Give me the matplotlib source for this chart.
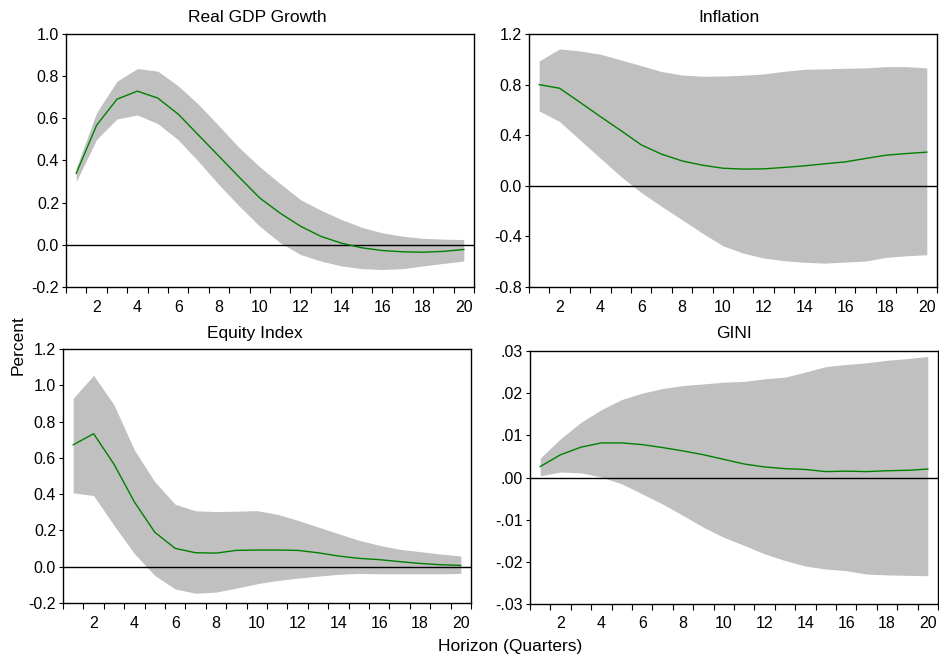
import numpy as np
import matplotlib
matplotlib.use("Agg")
import matplotlib.pyplot as plt

plt.rcParams['font.family'] = ['Liberation Sans', 'DejaVu Sans']

horizon = list(range(1, 21))

gdp_mid = [0.339, 0.567, 0.691, 0.729, 0.696, 0.62, 0.52, 0.42, 0.32, 0.222,
           0.15, 0.088, 0.04, 0.008, -0.014, -0.027, -0.033, -0.035, -0.031, -0.022]
gdp_up = [0.364, 0.627, 0.776, 0.836, 0.824, 0.754, 0.666, 0.564, 0.46, 0.37,
          0.29, 0.214, 0.164, 0.12, 0.083, 0.057, 0.041, 0.031, 0.027, 0.025]
gdp_lo = [0.30, 0.50, 0.597, 0.616, 0.575, 0.498, 0.395, 0.285, 0.183, 0.088,
          0.01, -0.046, -0.077, -0.10, -0.113, -0.117, -0.113, -0.10, -0.088, -0.077]

inf_mid = [0.80, 0.771, 0.66, 0.547, 0.437, 0.324, 0.25, 0.197, 0.163, 0.139,
           0.132, 0.134, 0.145, 0.158, 0.174, 0.189, 0.216, 0.242, 0.255, 0.266]
inf_up = [0.987, 1.082, 1.066, 1.04, 0.995, 0.95, 0.903, 0.876, 0.866, 0.868,
          0.874, 0.884, 0.905, 0.921, 0.924, 0.929, 0.932, 0.942, 0.942, 0.932]
inf_lo = [0.592, 0.508, 0.363, 0.218, 0.074, -0.053, -0.163, -0.268, -0.374, -0.474,
          -0.532, -0.571, -0.592, -0.605, -0.611, -0.603, -0.595, -0.566, -0.553, -0.545]

eq_mid = [0.672, 0.733, 0.565, 0.357, 0.19, 0.101, 0.077, 0.075, 0.09, 0.092,
          0.092, 0.09, 0.077, 0.059, 0.046, 0.039, 0.028, 0.018, 0.011, 0.007]
eq_up = [0.928, 1.055, 0.892, 0.643, 0.468, 0.344, 0.308, 0.304, 0.306, 0.309,
         0.289, 0.256, 0.219, 0.182, 0.146, 0.118, 0.096, 0.083, 0.07, 0.059]
eq_lo = [0.407, 0.392, 0.228, 0.072, -0.048, -0.123, -0.146, -0.14, -0.118, -0.094,
         -0.076, -0.063, -0.052, -0.042, -0.037, -0.039, -0.039, -0.039, -0.039, -0.037]

gini_mid = [0.0026, 0.0054, 0.0072, 0.0082, 0.0082, 0.0078, 0.0071, 0.0063, 0.0054, 0.0043,
            0.0032, 0.0025, 0.0021, 0.0019, 0.0014, 0.0015, 0.0014, 0.0016, 0.0017, 0.0020]
gini_up = [0.0046, 0.0092, 0.0131, 0.0161, 0.0185, 0.0200, 0.0211, 0.0218, 0.0222, 0.0226,
           0.0228, 0.0234, 0.0238, 0.0250, 0.0263, 0.0268, 0.0272, 0.0278, 0.0282, 0.0287]
gini_lo = [0.0004, 0.0013, 0.0011, 0.0001, -0.0015, -0.0039, -0.0063, -0.0090, -0.0118, -0.0142,
           -0.0161, -0.0181, -0.0197, -0.0210, -0.0217, -0.0221, -0.0229, -0.0231, -0.0232, -0.0233]

titles = ["Real GDP Growth", "Inflation", "Equity Index", "GINI"]

gdp_ticks = [-0.2, 0.0, 0.2, 0.4, 0.6, 0.8, 1.0]
gdp_labels = ["-0.2", "0.0", "0.2", "0.4", "0.6", "0.8", "1.0"]
inf_ticks = [-0.8, -0.4, 0.0, 0.4, 0.8, 1.2]
inf_labels = ["-0.8", "-0.4", "0.0", "0.4", "0.8", "1.2"]
eq_ticks = [-0.2, 0.0, 0.2, 0.4, 0.6, 0.8, 1.0, 1.2]
eq_labels = ["-0.2", "0.0", "0.2", "0.4", "0.6", "0.8", "1.0", "1.2"]
gini_ticks = [-0.03, -0.02, -0.01, 0.0, 0.01, 0.02, 0.03]
gini_labels = ["-.03", "-.02", "-.01", ".00", ".01", ".02", ".03"]
x_labels = [2, 4, 6, 8, 10, 12, 14, 16, 18, 20]

W, H = 939, 660
fig = plt.figure(figsize=(W / 100, H / 100), dpi=100)

def rect(l, r, t, b):
    return [l / W, 1 - b / H, (r - l) / W, (b - t) / H]

panels = [
    (rect(66, 474, 34, 287), gdp_mid, gdp_up, gdp_lo, gdp_ticks, gdp_labels, 257, 22),
    (rect(529, 937, 34, 287), inf_mid, inf_up, inf_lo, inf_ticks, inf_labels, 729, 22),
    (rect(63, 471, 349, 603), eq_mid, eq_up, eq_lo, eq_ticks, eq_labels, 255, 338),
    (rect(530, 938, 351, 604), gini_mid, gini_up, gini_lo, gini_ticks, gini_labels, 734, 338),
]

for (pos, mid, up, lo, yt, yl, tx, ty), title in zip(panels, titles):
    ax = fig.add_axes(pos)
    ax.fill_between(horizon, lo, up, color='#c0c0c0', linewidth=0, zorder=1)
    ax.axhline(0, color='black', linewidth=1.0, zorder=2)
    ax.plot(horizon, mid, color='#008000', linewidth=1.0, zorder=3)
    ax.set_xlim(0.5, 20.5)
    ax.set_ylim(yt[0], yt[-1])
    ax.set_yticks(yt)
    ax.set_yticklabels(yl)
    ax.set_xticks(x_labels)
    ax.set_xticklabels([str(v) for v in x_labels])
    ax.set_xticks(np.arange(0.5, 21.0, 1.0), minor=True)
    ax.tick_params(axis='x', which='major', length=0, pad=9, labelsize=11.5)
    ax.tick_params(axis='x', which='minor', length=4.5, width=0.8, direction='out')
    ax.tick_params(axis='y', which='major', length=3, width=0.8, direction='out', pad=2, labelsize=11.5)
    for s in ax.spines.values():
        s.set_linewidth(1.0)
    fig.text(tx / W, 1 - ty / H, title, ha='center', va='baseline', fontsize=12.5)

fig.text(18 / W, 1 - 345 / H, "Percent", rotation=90, ha='center', va='center', fontsize=12.5)
fig.text(510 / W, 1 - 647 / H, "Horizon (Quarters)", ha='center', va='center', fontsize=12.5)

fig.savefig("out.png", dpi=100)
